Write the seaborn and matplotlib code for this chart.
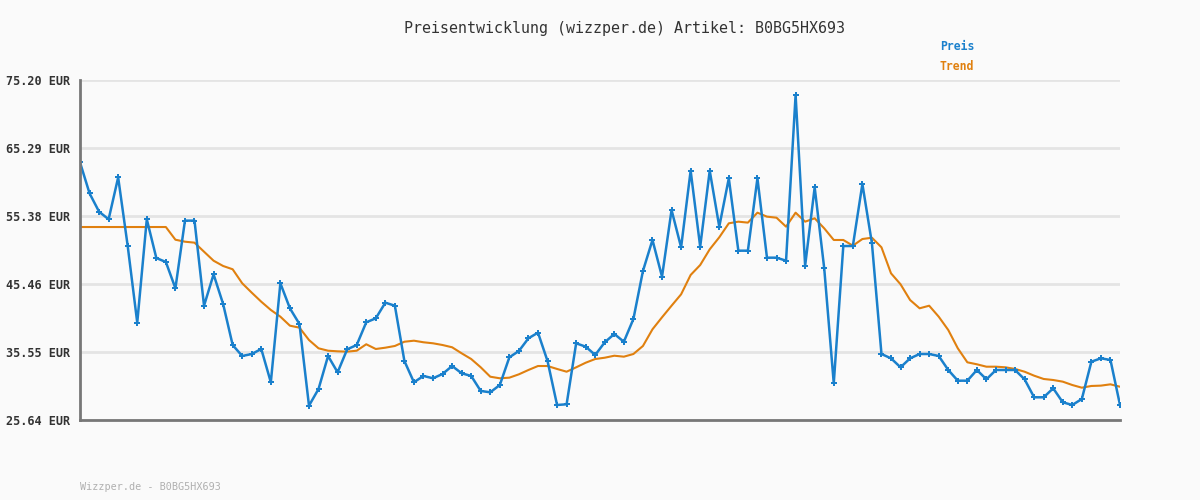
import numpy as np
import pandas as pd
import matplotlib
matplotlib.use('Agg')
import matplotlib.pyplot as plt
import seaborn as sns

# price readings (EUR), one per sample
preis = [63.2, 58.68, 56.0, 54.9, 61.0, 51.0, 39.83, 54.9, 49.25, 48.67,
         44.84, 54.7, 54.7, 42.3, 46.87, 42.55, 36.57, 34.97, 35.26, 35.99,
         31.14, 45.57, 41.92, 39.63, 27.73, 30.16, 34.97, 32.59, 35.94, 36.57,
         39.88, 40.46, 42.74, 42.3, 34.24, 31.14, 32.06, 31.72, 32.35, 33.51,
         32.45, 32.06, 29.87, 29.68, 30.74, 34.78, 35.7, 37.55, 38.37, 34.24,
         27.83, 27.93, 36.82, 36.33, 35.12, 36.97, 38.18, 37.05, 40.36, 47.36,
         51.88, 46.53, 56.25, 50.81, 61.98, 50.9, 61.98, 53.82, 60.87, 50.32,
         50.32, 60.87, 49.3, 49.3, 48.86, 73.01, 48.13, 59.56, 47.75, 30.99,
         51.0, 51.0, 60.04, 51.4, 35.26, 34.63, 33.32, 34.63, 35.26, 35.26,
         34.97, 32.93, 31.37, 31.37, 32.93, 31.57, 32.93, 32.93, 32.93, 31.57,
         28.95, 28.95, 30.26, 28.22, 27.83, 28.7, 34.14, 34.63, 34.39, 27.83]

trend = [53.77, 53.77, 53.77, 53.77, 53.77, 53.77, 53.77, 53.77, 53.77, 53.77,
         51.92, 51.63, 51.49, 50.17, 48.86, 48.09, 47.61, 45.57, 44.2, 42.88,
         41.68, 40.7, 39.39, 39.1, 37.3, 36.09, 35.74, 35.65, 35.6, 35.74,
         36.68, 35.99, 36.18, 36.43, 37.05, 37.2, 36.97, 36.82, 36.57, 36.24,
         35.36, 34.53, 33.32, 31.95, 31.72, 31.81, 32.3, 32.93, 33.51, 33.51,
         33.08, 32.68, 33.32, 33.99, 34.53, 34.72, 35.01, 34.87, 35.26, 36.43,
         38.86, 40.61, 42.3, 43.96, 46.78, 48.23, 50.52, 52.27, 54.31, 54.55,
         54.41, 55.86, 55.28, 55.13, 53.82, 55.86, 54.55, 55.04, 53.58, 51.88,
         51.88, 51.05, 52.02, 52.21, 50.81, 47.02, 45.42, 43.13, 41.92, 42.3,
         40.7, 38.76, 36.09, 34.05, 33.76, 33.41, 33.41, 33.32, 33.08, 32.68,
         32.1, 31.62, 31.47, 31.23, 30.74, 30.35, 30.6, 30.65, 30.84, 30.49]

y_ticks = [25.64, 35.55, 45.46, 55.38, 65.29, 75.20]
y_labels = ['25.64 EUR', '35.55 EUR', '45.46 EUR', '55.38 EUR', '65.29 EUR', '75.20 EUR']

title = 'Preisentwicklung (wizzper.de) Artikel: B0BG5HX693'
footer = 'Wizzper.de - B0BG5HX693'

blue = '#1a80cc'
orange = '#e0800f'
bg = '#fafafa'

df = pd.DataFrame({'idx': np.arange(len(preis)), 'Preis': preis, 'Trend': trend})

sns.set_theme(style='white')
plt.rcParams['font.family'] = ['DejaVu Sans Mono', 'DejaVu Sans']

fig = plt.figure(figsize=(12, 5), dpi=100, facecolor=bg)
ax = fig.add_axes([80 / 1200, 80 / 500, 1040 / 1200, 340 / 500])
ax.set_facecolor(bg)

sns.lineplot(data=df, x='idx', y='Trend', ax=ax, color=orange, linewidth=1.5, zorder=3)
sns.lineplot(data=df, x='idx', y='Preis', ax=ax, color=blue, linewidth=1.8,
             marker='P', markersize=4, markeredgewidth=0, zorder=4)

ax.set_xlim(0, len(preis) - 1)
ax.set_ylim(y_ticks[0], y_ticks[-1])
ax.set_yticks(y_ticks)
ax.set_yticklabels(y_labels, fontsize=8.5, fontweight='bold', color='#333333')
ax.set_xticks([])
ax.set_xlabel('')
ax.set_ylabel('')
ax.tick_params(axis='y', length=0, pad=7)
ax.grid(axis='y', color='#e4e4e4', linewidth=2)
ax.set_axisbelow(True)

for side in ['top', 'right']:
    ax.spines[side].set_visible(False)
for side in ['left', 'bottom']:
    ax.spines[side].set_color('#777777')
    ax.spines[side].set_linewidth(2)
    ax.spines[side].set_zorder(5)

fig.text(624 / 1200, 1 - 28 / 500, title, ha='center', va='center', fontsize=10.8, color='#333333')
fig.text(940 / 1200, 1 - 47 / 500, 'Preis', ha='left', va='center', fontsize=8.3,
         fontweight='bold', color=blue)
fig.text(940 / 1200, 1 - 67 / 500, 'Trend', ha='left', va='center', fontsize=8.3,
         fontweight='bold', color=orange)
fig.text(80 / 1200, 1 - 487 / 500, footer, ha='left', va='center', fontsize=7.3, color='#b0b0b0')

fig.savefig('out.png', dpi=100, facecolor=bg)
